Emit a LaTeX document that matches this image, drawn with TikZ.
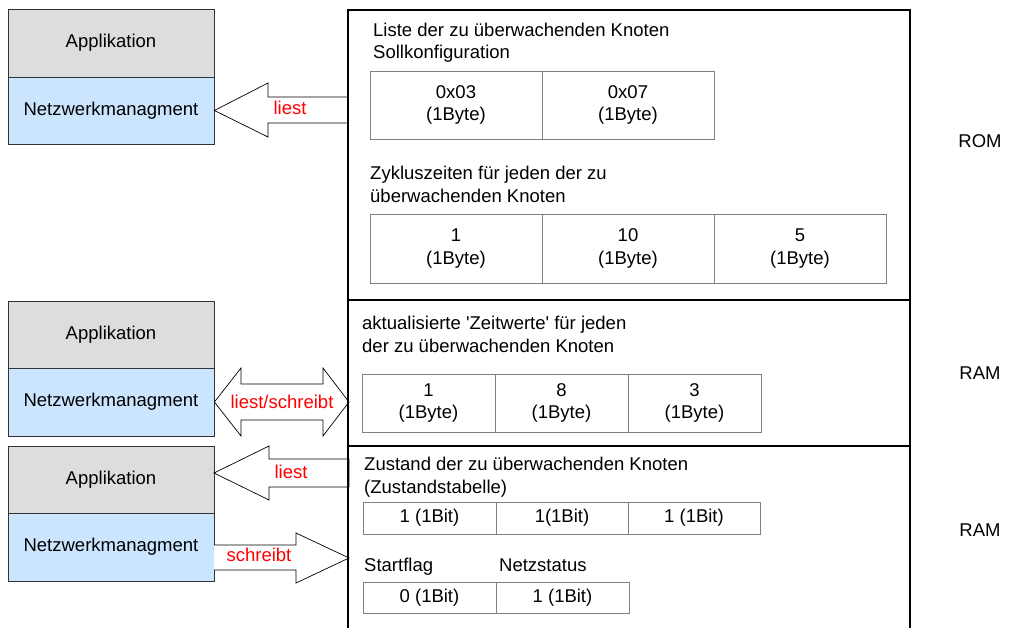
\documentclass[tikz,border=0pt]{standalone}
\usepackage{fontspec}
\setmainfont{Liberation Sans}
\definecolor{appgray}{RGB}{221,221,221}
\definecolor{nmblue}{RGB}{204,229,255}
\definecolor{cellline}{RGB}{128,128,128}
\definecolor{boxline}{RGB}{51,51,51}
\begin{document}
\begin{tikzpicture}[x=1pt,y=-1pt,
  txt/.style={font=\fontsize{18.5}{22.5}\selectfont, inner sep=0pt},
  layer/.style={txt, draw=boxline, line width=0.8pt, minimum width=206pt},
  appbox/.style={layer, fill=appgray},
  nmbox/.style={layer, fill=nmblue},
  cell/.style={txt, draw=cellline, line width=0.9pt, align=center},
  lbl/.style={txt, text=red},
  hdr/.style={txt, anchor=west, align=left},
  blockarrow/.style={draw=black, line width=0.7pt, fill=white, line join=miter},
  mem/.style={line width=2.4pt, line join=miter}
]
\useasboundingbox (0,0) rectangle (1018,628);

% memory frame
\coordinate (mBL) at (348,628);
\coordinate (mTL) at (348,10);
\coordinate (mTR) at (910,10);
\coordinate (mBR) at (910,628);
\coordinate (s1L) at (348,300);
\coordinate (s1R) at (910,300);
\coordinate (s2L) at (348,446);
\coordinate (s2R) at (910,446);

% left stacks
\node[appbox, minimum height=68pt] (app1) at (111,43) {Applikation};
\node[nmbox, minimum height=67pt] (nm1) at (111,110.5) {Netzwerkmanagment};
\node[appbox, minimum height=67pt] (app2) at (111,334.5) {Applikation};
\node[nmbox, minimum height=68pt] (nm2) at (111,402) {Netzwerkmanagment};
\node[appbox, minimum height=67pt] (app3) at (111,479.5) {Applikation};
\node[nmbox, minimum height=68pt] (nm3) at (111,547) {Netzwerkmanagment};

% block arrows
\coordinate (a3tip) at (214,473);
\draw[blockarrow] (nm1.east) -- (268,83) -- (268,97) -- (348,97) -- (348,123) -- (268,123) -- (268,137) -- cycle;
\draw[blockarrow] (nm2.east) -- (241,368) -- (241,384) -- (323,384) -- (323,368) -- (349,402) -- (323,436) -- (323,420) -- (241,420) -- (241,436) -- cycle;
\draw[blockarrow] (a3tip) -- (269,446) -- (269,459) -- (349,459) -- (349,487) -- (269,487) -- (269,500) -- cycle;
\draw[blockarrow] (214,545) -- (296,545) -- (296,533) -- (349,558) -- (296,583) -- (296,570) -- (214,570);

\node[lbl] (l1) at (290,108) {liest};
\node[lbl] (l2) at (282,402) {liest/schreibt};
\node[lbl] (l3) at (291,472) {liest};
\node[lbl] (l4) at (259,555) {schreibt};

\draw[mem] (mBL) -- (mTL) -- (mTR) -- (mBR);
\draw[mem] (s1L) -- (s1R);
\draw[mem] (s2L) -- (s2R);

% ROM section
\node[hdr] (t1) at (373,42.5) {Liste der zu überwachenden Knoten\\Sollkonfiguration};
\node[cell, minimum width=172pt, minimum height=68pt] (c11) at (456,105) {0x03\\(1Byte)};
\node[cell, minimum width=172pt, minimum height=68pt] (c12) at (628,105) {0x07\\(1Byte)};
\node[hdr] (t2) at (370,184.5) {Zykluszeiten für jeden der zu\\überwachenden Knoten};
\node[cell, minimum width=172pt, minimum height=69pt] (c21) at (456,248.5) {1\\(1Byte)};
\node[cell, minimum width=172pt, minimum height=69pt] (c22) at (628,248.5) {10\\(1Byte)};
\node[cell, minimum width=172pt, minimum height=69pt] (c23) at (800,248.5) {5\\(1Byte)};

% RAM section 1
\node[hdr] (t3) at (362,334.5) {aktualisierte \textquotesingle Zeitwerte\textquotesingle\ für jeden\\der zu überwachenden Knoten};
\node[cell, minimum width=133pt, minimum height=58pt] (c31) at (428.5,403) {1\\(1Byte)};
\node[cell, minimum width=133pt, minimum height=58pt] (c32) at (561.5,403) {8\\(1Byte)};
\node[cell, minimum width=133pt, minimum height=58pt] (c33) at (694.5,403) {3\\(1Byte)};

% RAM section 2
\node[hdr] (t4) at (364,477) {Zustand der zu überwachenden Knoten\\(Zustandstabelle)};
\node[cell, minimum width=133pt, minimum height=32pt] (c41) at (429.5,518) {1 (1Bit)};
\node[cell, minimum width=132pt, minimum height=32pt] (c42) at (562,518) {1(1Bit)};
\node[cell, minimum width=132pt, minimum height=32pt] (c43) at (694,518) {1 (1Bit)};
\node[txt, anchor=base west] (t5) at (364,571) {Startflag};
\node[txt, anchor=base west] (t6) at (499,571) {Netzstatus};
\node[cell, minimum width=133pt, minimum height=31pt] (c51) at (429.5,597.5) {0 (1Bit)};
\node[cell, minimum width=133pt, minimum height=31pt] (c52) at (562.5,597.5) {1 (1Bit)};

% memory labels
\node[txt] (rom) at (980,141) {ROM};
\node[txt] (ram1) at (980,373) {RAM};
\node[txt] (ram2) at (980,530) {RAM};
\end{tikzpicture}
\end{document}
